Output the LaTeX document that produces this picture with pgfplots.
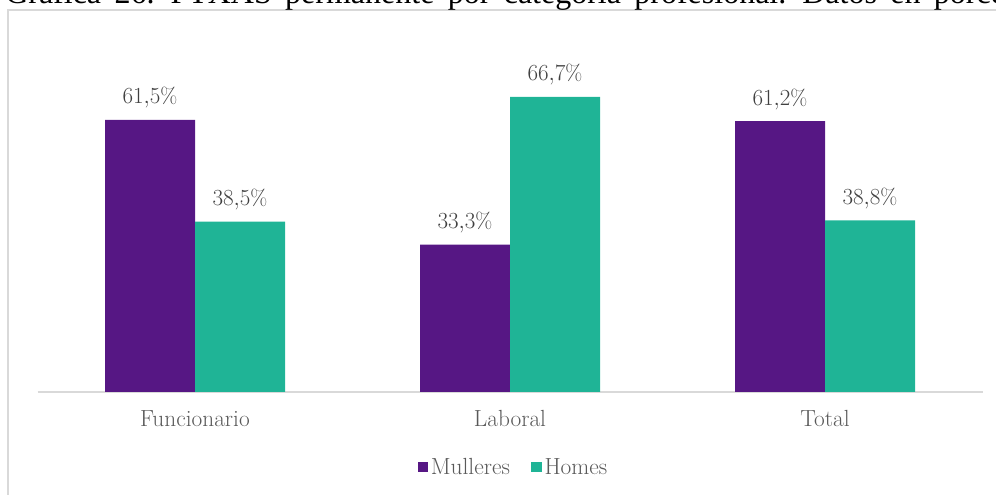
\documentclass[border=0pt]{standalone}
\usepackage{fontspec}
\usepackage{pgfplots}
\pgfplotsset{compat=1.18}
\newfontfamily\titlefont{Liberation Serif}
\definecolor{mpurple}{HTML}{561784}
\definecolor{mteal}{HTML}{1FB496}
\definecolor{txtgray}{HTML}{595959}
\definecolor{lblgray}{HTML}{404040}
\definecolor{linegray}{HTML}{D9D9D9}
\begin{document}
\begin{tikzpicture}[x=0.75pt,y=0.75pt]
\path[use as bounding box] (0,0) rectangle (996,495);
\clip (0,0) rectangle (996,495);
\draw[linegray, line width=1.3pt] (8,-10) -- (8,485) -- (1010,485);
\node[anchor=base west, inner sep=0pt, font=\titlefont\fontsize{24}{28}\selectfont] at (5,491)
  {\spaceskip=10pt plus 0pt Gráfica 26. PTXAS permanente por categoría profesional. Datos en porcentaxe};
\begin{axis}[
  at={(28.125pt,77.25pt)}, anchor=south west,
  scale only axis, width=708.75pt, height=265.5pt,
  xmin=-0.5, xmax=2.5, ymin=0, ymax=80,
  ybar=0pt, bar width=67.5pt,
  axis y line=none, axis x line*=bottom,
  x axis line style={linegray, line width=1.2pt},
  xtick={0,1,2}, xticklabels={Funcionario,Laboral,Total},
  xtick style={draw=none},
  xticklabel style={anchor=base, yshift=-21.5pt, font=\fontsize{17.5}{21}\selectfont, text=txtgray},
  nodes near coords={\pgfmathprintnumber[fixed,fixed zerofill,precision=1,use comma]{\pgfplotspointmeta}\%},
  nodes near coords style={anchor=base, yshift=12pt, inner sep=0pt, font=\fontsize{16.5}{20}\selectfont, text=lblgray},
  legend style={at={(0.504,-0.212)}, anchor=center, draw=none, legend columns=2,
    font=\fontsize{17.5}{21}\selectfont, text=txtgray,
    /tikz/every even column/.append style={column sep=14pt}},
  legend image code/.code={\fill[#1] (0pt,-4pt) rectangle (8pt,4pt);},
]
\addplot[fill=mpurple, draw=none] coordinates {(0,61.5) (1,33.3) (2,61.2)};
\addplot[fill=mteal, draw=none] coordinates {(0,38.5) (1,66.7) (2,38.8)};
\legend{Mulleres,Homes}
\end{axis}
\end{tikzpicture}
\end{document}
